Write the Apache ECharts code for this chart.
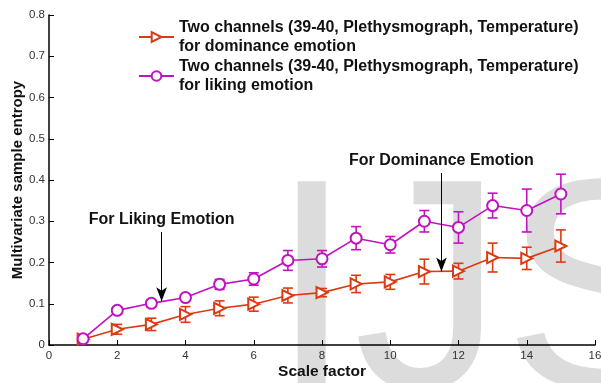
<!DOCTYPE html>
<html><head><meta charset="utf-8">
<script src="https://cdn.jsdelivr.net/npm/echarts@6/dist/echarts.min.js"></script>
<style>html,body{margin:0;padding:0;background:#fff}#c{width:601px;height:383px}</style>
</head><body><div id="c"></div>
<script>
const scales = [1,2,3,4,5,6,7,8,9,10,11,12,13,14,15];
const domMean = [0.014,0.038,0.050,0.074,0.089,0.099,0.120,0.127,0.148,0.153,0.178,0.179,0.212,0.210,0.240];
const domErr  = [0.006,0.012,0.015,0.019,0.018,0.017,0.018,0.010,0.021,0.018,0.030,0.019,0.035,0.027,0.039];
const likMean = [0.015,0.084,0.101,0.115,0.147,0.160,0.205,0.209,0.259,0.243,0.300,0.285,0.338,0.326,0.366];
const likErr  = [0.008,0.008,0.008,0.006,0.012,0.015,0.024,0.020,0.028,0.020,0.026,0.038,0.030,0.052,0.048];
const xTicks = [0,2,4,6,8,10,12,14,16];
const yTicks = [0,0.1,0.2,0.3,0.4,0.5,0.6,0.7,0.8];
const domName = 'Two channels (39-40, Plethysmograph, Temperature)\nfor dominance emotion';
const likName = 'Two channels (39-40, Plethysmograph, Temperature)\nfor liking emotion';
const RED = '#dc3a12', MAG = '#c212c2';
const FONT = '"Liberation Sans", Arial, sans-serif';

function errSeries(name, mean, err, color) {
  return {
    type: 'custom', name: name + '_err', z: 3,
    data: scales.map((x, i) => [x, mean[i] - err[i], mean[i] + err[i]]),
    renderItem: function (params, api) {
      const lo = api.coord([api.value(0), api.value(1)]);
      const hi = api.coord([api.value(0), api.value(2)]);
      const w = 5;
      const st = { stroke: color, lineWidth: 1.6, fill: 'none' };
      return { type: 'group', children: [
        { type: 'line', shape: { x1: lo[0], y1: lo[1], x2: hi[0], y2: hi[1] }, style: st },
        { type: 'line', shape: { x1: lo[0]-w, y1: lo[1], x2: lo[0]+w, y2: lo[1] }, style: st },
        { type: 'line', shape: { x1: hi[0]-w, y1: hi[1], x2: hi[0]+w, y2: hi[1] }, style: st }
      ]};
    }
  };
}

const chart = echarts.init(document.getElementById('c'), null, { renderer: 'canvas' });
chart.setOption({
  animation: false,
  backgroundColor: '#fff',
  textStyle: { fontFamily: FONT },
  grid: { left: 49, right: 6, top: 15, bottom: 38, outerBoundsMode: 'none', containLabel: false },
  graphic: [{
    type: 'text', z: -100, silent: true, left: 270, top: 155,
    style: { text: 'IJS', font: '300px "Liberation Sans", Arial, sans-serif', fill: '#dcdcdc' }
  }],
  legend: {
    left: 133, top: 13, orient: 'vertical', itemWidth: 35, itemHeight: 12, itemGap: 1,
    data: [domName, likName],
    textStyle: { fontFamily: FONT, fontWeight: 'bold', fontSize: 16, lineHeight: 19, color: '#111' }
  },
  xAxis: {
    type: 'value', min: 0, max: 16, interval: 2,
    name: 'Scale factor', nameLocation: 'middle', nameGap: 19, nameMoveOverlap: false,
    nameTextStyle: { fontFamily: FONT, fontWeight: 'bold', fontSize: 15.5, color: '#111' },
    axisLine: { lineStyle: { color: '#000', width: 1.5 } },
    axisTick: { inside: true, length: 5, lineStyle: { color: '#000' } },
    axisLabel: { color: '#333', fontSize: 11.5, margin: 5, formatter: v => xTicks.includes(v) ? String(v) : '' },
    splitLine: { show: false }
  },
  yAxis: {
    type: 'value', min: 0, max: 0.8, interval: 0.1,
    name: 'Multivariate sample entropy', nameLocation: 'middle', nameGap: 24, nameMoveOverlap: false,
    nameTextStyle: { fontFamily: FONT, fontWeight: 'bold', fontSize: 15, color: '#111', verticalAlign: 'bottom' },
    axisLine: { show: true, lineStyle: { color: '#000', width: 1.5 } },
    axisTick: { show: true, inside: true, length: 5, lineStyle: { color: '#000' } },
    axisLabel: { color: '#333', fontSize: 11.5, margin: 4, formatter: v => { const t = yTicks.find(k => Math.abs(k - v) < 1e-9); return t === undefined ? '' : (t === 0 ? '0' : t.toFixed(1)); } },
    splitLine: { show: false }
  },
  series: [
    errSeries('dom', domMean, domErr, RED),
    errSeries('lik', likMean, likErr, MAG),
    {
      type: 'line', name: domName, z: 4,
      data: scales.map((x, i) => [x, domMean[i]]),
      symbol: 'emptyTriangle', symbolSize: 11, symbolRotate: -90, showAllSymbol: true,
      lineStyle: { color: RED, width: 1.6 }, itemStyle: { color: RED, borderWidth: 1.6 },
      markLine: {
        silent: true, symbol: ['none', 'arrow'], symbolSize: [8, 14],
        lineStyle: { color: '#000', width: 1, type: 'solid' },
        label: { show: true, position: 'start', distance: 4, formatter: 'For Dominance Emotion', color: '#111', fontFamily: FONT, fontWeight: 'bold', fontSize: 16 },
        data: [[{ coord: [11.5, 0.417] }, { coord: [11.5, 0.178] }]]
      }
    },
    {
      type: 'line', name: likName, z: 4,
      data: scales.map((x, i) => [x, likMean[i]]),
      symbol: 'emptyCircle', symbolSize: 11, showAllSymbol: true,
      lineStyle: { color: MAG, width: 1.6 }, itemStyle: { color: MAG, borderWidth: 1.6 },
      markLine: {
        silent: true, symbol: ['none', 'arrow'], symbolSize: [8, 14],
        lineStyle: { color: '#000', width: 1, type: 'solid' },
        label: { show: true, position: 'start', distance: 4, formatter: 'For Liking Emotion', color: '#111', fontFamily: FONT, fontWeight: 'bold', fontSize: 16 },
        data: [[{ coord: [3.3, 0.274] }, { coord: [3.3, 0.106] }]]
      }
    }
  ]
});
</script></body></html>
